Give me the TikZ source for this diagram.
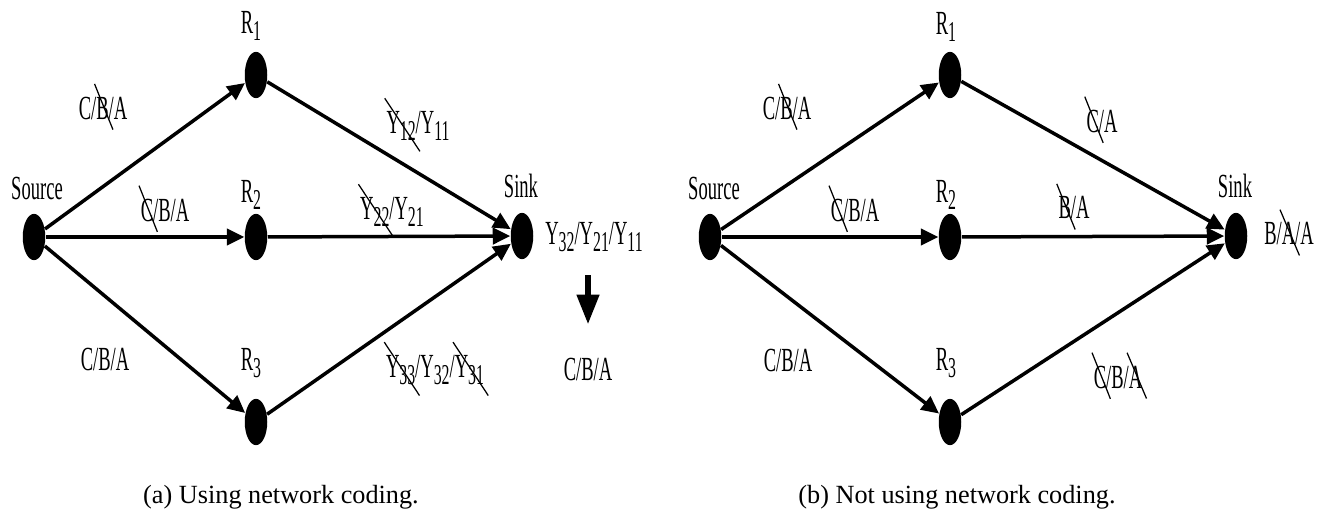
\documentclass[tikz,border=0pt]{standalone}
\usepackage{fontspec}
\setmainfont{Liberation Serif}
\newfontfamily\narrowfont[FakeStretch=0.55]{Liberation Serif}
\usetikzlibrary{shapes.geometric, arrows.meta}
\tikzstyle{dot_node} = [ellipse, fill=black, inner sep=0pt, minimum width=9pt, minimum height=18.5pt]
\tikzstyle{tag} = [font=\narrowfont\fontsize{13.5}{13.5}\selectfont, inner sep=1pt]
\tikzstyle{link} = [line width=1.4pt, -{Triangle[length=7pt,width=6.5pt]}]
\tikzstyle{big_arrow} = [line width=2.6pt, -{Triangle[length=12pt,width=8.5pt]}]
\tikzstyle{caption_text} = [font=\fontsize{10.5}{12}\selectfont]
\newcommand{\sub}[1]{\raisebox{-3pt}{\fontsize{11.5}{11.5}\selectfont#1}}
\newcommand{\strike}[1]{\tikz[baseline=(w.base)]{\node[inner sep=0pt] (w) {#1};
  \draw[overlay, line width=0.5pt] ([shift={(-0.5pt,5pt)}]w.north west) -- ([shift={(1.5pt,-4pt)}]w.south east);}}

\begin{document}
\begin{tikzpicture}[x=0.4pt, y=-0.4pt]
\useasboundingbox (0,0) rectangle (1327,512);
% (a) with network coding
\node (srcA) [dot_node] at (34,237) {};
\foreach \i/\y in {1/75,2/237,3/422}
  \node (rA\i) [dot_node] at (256,\y) {};
\node (sinkA) [dot_node] at (522,236) {};
\foreach \i in {1,2,3}
 {
   \draw[link] (srcA) -- (rA\i);
   \draw[link] (rA\i) -- (sinkA);
 }
\node (srcA_lbl) [tag] at (37,188) {Source};
\node (sinkA_lbl) [tag] at (521,186) {Sink};
\node (rA1_lbl) [tag] at (251,26) {R\sub{1}};
\node (rA2_lbl) [tag] at (251,195) {R\sub{2}};
\node (rA3_lbl) [tag] at (251,363) {R\sub{3}};
\node (sA1) [tag] at (103,108) {C/\strike{B}/A};
\node (sA2) [tag] at (165,210) {\strike{C}/B/A};
\node (sA3) [tag] at (105,359) {C/B/A};
\node (tA1) [tag] at (418,126) {\strike{Y\sub{12}}/Y\sub{11}};
\node (tA2) [tag] at (392,212) {\strike{Y\sub{22}}/Y\sub{21}};
\node (tA3) [tag] at (435,370) {\strike{Y\sub{33}}/Y\sub{32}/\strike{Y\sub{31}}};
\node (outA) [tag] at (594,237) {Y\sub{32}/Y\sub{21}/Y\sub{11}};
\node (decA) [tag] at (588,369) {C/B/A};
\draw[big_arrow, shorten <=8pt, shorten >=12pt] (outA.south -| decA.north) -- (decA.north);
\node (capA) [caption_text] at (281,497) {(a) Using network coding.};

% (b) without network coding
\node (srcB) [dot_node] at (710,237) {};
\foreach \i/\y in {1/75,2/237,3/422}
  \node (rB\i) [dot_node] at (950,\y) {};
\node (sinkB) [dot_node] at (1236,236) {};
\foreach \i in {1,2,3}
 {
   \draw[link] (srcB) -- (rB\i);
   \draw[link] (rB\i) -- (sinkB);
 }
\node (srcB_lbl) [tag] at (714,188) {Source};
\node (sinkB_lbl) [tag] at (1235,186) {Sink};
\node (rB1_lbl) [tag] at (946,27) {R\sub{1}};
\node (rB2_lbl) [tag] at (946,195) {R\sub{2}};
\node (rB3_lbl) [tag] at (946,363) {R\sub{3}};
\node (sB1) [tag] at (787,108) {C/\strike{B}/A};
\node (sB2) [tag] at (855,210) {\strike{C}/B/A};
\node (sB3) [tag] at (788,360) {C/B/A};
\node (tB1) [tag] at (1102,121) {\strike{C}/A};
\node (tB2) [tag] at (1074,208) {\strike{B}/A};
\node (tB3) [tag] at (1118,377) {\strike{C}/B/\strike{A}};
\node (outB) [tag] at (1289,234) {B/\strike{A}/A};
\node (capB) [caption_text] at (957,497) {(b) Not using network coding.};
\end{tikzpicture}
\end{document}
